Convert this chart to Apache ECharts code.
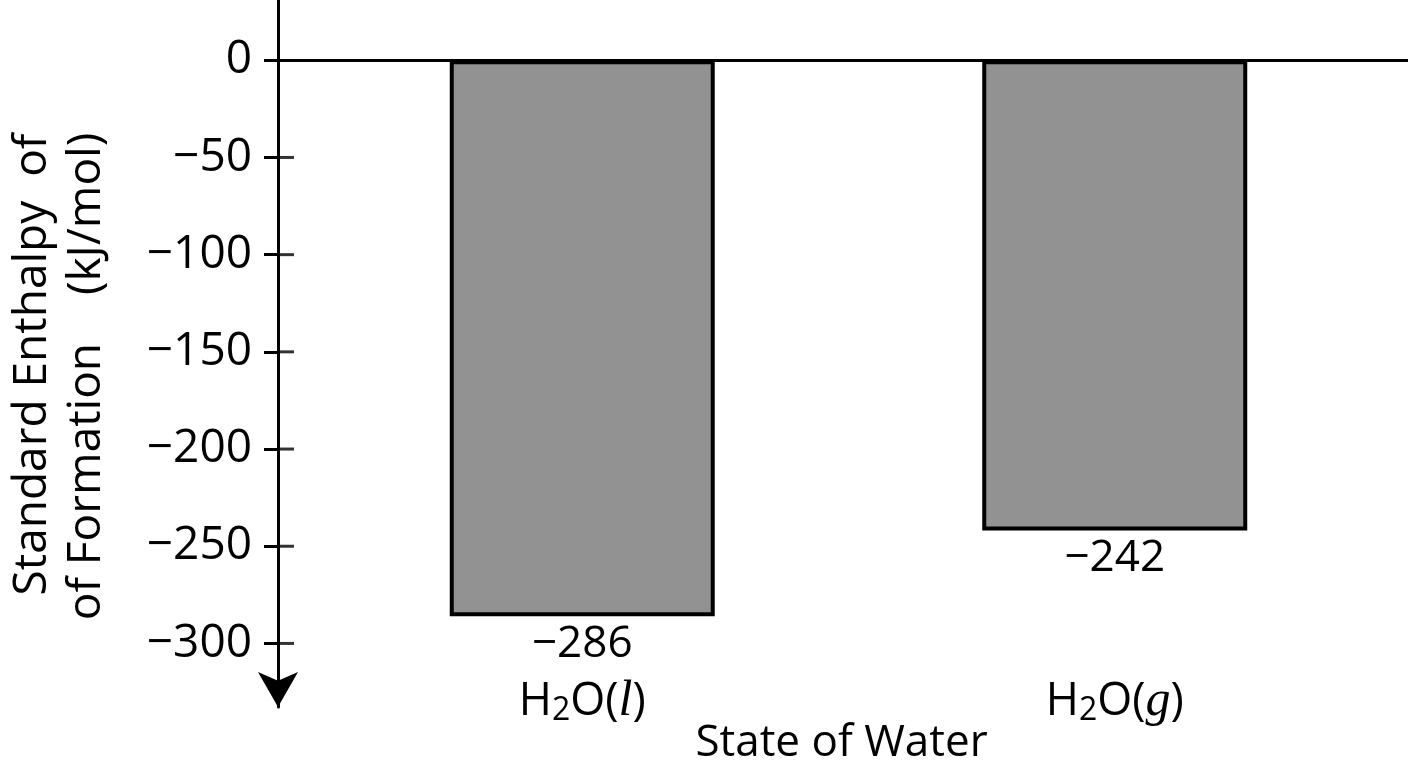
<!DOCTYPE html>
<html>
<head>
<meta charset="utf-8">
<script src="https://cdn.jsdelivr.net/npm/echarts@6/dist/echarts.min.js"></script>
<style>
    html, body { margin: 0; padding: 0; background: #fff; }
    #chart { width: 1408px; height: 768px; }
</style>
</head>
<body>
<div id="chart"></div>
<script>
// data
const categories = ['H2O(l)', 'H2O(g)'];
const enthalpy = [-286, -242];
const yTicks = [0, -50, -100, -150, -200, -250, -300];

const FONT = 'Open Sans';
const minus = v => String(v).replace('-', '\u2212');

const chart = echarts.init(document.getElementById('chart'));

const catLabel = name => {
    // H2O(x) -> H, sub 2, O(, italic x, )
    const state = name.slice(4, -1);
    return '{n|H}{s|2}{n|O(}{i|' + state + '}{n|)}';
};

const option = {
    backgroundColor: '#fff',
    animation: false,
    grid: [
        // axis + zero line (runs a bit longer for the arrow)
        { left: 278, right: 0, top: 0, height: 707, outerBoundsMode: 'none', containLabel: false },
        // bars
        { left: 316, width: 1065, top: 0, height: 690, outerBoundsMode: 'none', containLabel: false }
    ],
    xAxis: [{
        gridIndex: 0,
        type: 'value',
        min: 0,
        max: 1,
        axisLine: { show: true, onZero: true, onZeroAxisIndex: 0, lineStyle: { color: '#000', width: 3 } },
        axisTick: { show: false },
        axisLabel: { show: false },
        splitLine: { show: false }
    }, {
        gridIndex: 1,
        type: 'category',
        data: categories,
        position: 'bottom',
        axisLine: { show: false, onZero: false },
        axisTick: { show: false },
        axisLabel: {
            margin: -12,
            formatter: catLabel,
            rich: {
                n: { fontFamily: FONT, fontSize: 45, color: '#000', lineHeight: 48 },
                s: { fontFamily: FONT, fontSize: 32, color: '#000', lineHeight: 48, padding: [18, 0, 0, 0] },
                i: { fontFamily: 'Liberation Serif', fontStyle: 'italic', fontSize: 50, color: '#000', lineHeight: 48 }
            }
        },
        name: 'State of Water',
        nameLocation: 'middle',
        nameGap: 31,
        nameMoveOverlap: false,
        nameTextStyle: { fontFamily: FONT, fontSize: 44, color: '#000', padding: [0, 14, 0, 0] }
    }],
    yAxis: [{
        gridIndex: 0,
        type: 'value',
        min: -332.7,
        max: 31,
        position: 'left',
        axisLine: {
            show: true,
            lineStyle: { color: '#000', width: 3 },
            symbol: ['arrow', 'none'],
            symbolSize: [30, 35]
        },
        axisTick: {
            show: true,
            length: 14,
            customValues: yTicks,
            lineStyle: { color: '#000', width: 3 }
        },
        axisLabel: {
            customValues: yTicks,
            margin: 26,
            formatter: minus,
            fontFamily: FONT,
            fontSize: 46,
            color: '#000'
        },
        splitLine: { show: false },
        name: '  Standard Enthalpy  of\nof Formation    (kJ/mol)',
        nameLocation: 'middle',
        nameGap: 164,
        nameTextStyle: { fontFamily: FONT, fontSize: 46, color: '#000', lineHeight: 54, padding: [0, 46, 0, 0] }
    }, {
        gridIndex: 1,
        type: 'value',
        min: -324,
        max: 31,
        show: false
    }],
    series: [{
        type: 'bar',
        xAxisIndex: 1,
        yAxisIndex: 1,
        data: enthalpy,
        barWidth: 265,
        itemStyle: { color: '#929292', borderColor: '#000', borderWidth: 4 },
        label: {
            show: true,
            position: 'bottom',
            distance: 6,
            formatter: p => minus(p.value),
            fontFamily: FONT,
            fontSize: 44,
            color: '#000'
        }
    }, {
        // right half of the crossing tick marks
        type: 'scatter',
        xAxisIndex: 0,
        yAxisIndex: 0,
        silent: true,
        data: yTicks.filter(v => v !== 0).map(v => [0, v]),
        symbol: 'rect',
        symbolSize: [16, 3],
        symbolOffset: [8, 0],
        itemStyle: { color: '#000' }
    }]
};

chart.setOption(option);
</script>
</body>
</html>
